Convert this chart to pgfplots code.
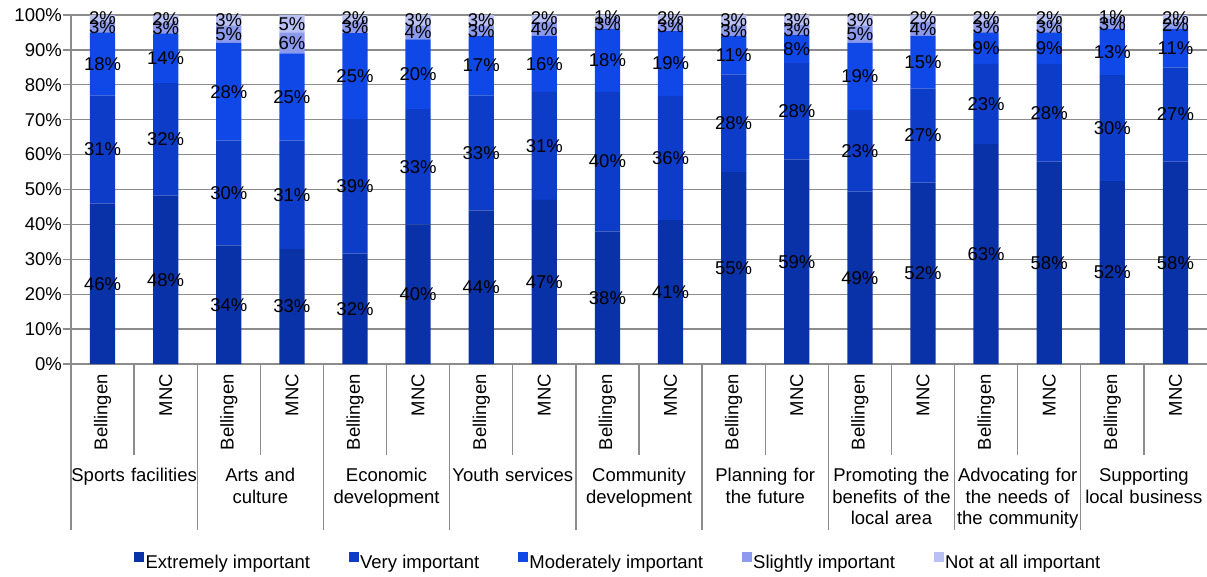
\documentclass[border=0pt]{standalone}
\usepackage{pgfplots}
\pgfplotsset{compat=1.18}
\usepackage{pgfplotstable}
\usepackage{fontspec}
\setmainfont{Liberation Sans}
\definecolor{cA}{HTML}{0A32A8}
\definecolor{cB}{HTML}{0C3CC8}
\definecolor{cC}{HTML}{1048E8}
\definecolor{cD}{HTML}{8C9AEE}
\definecolor{cE}{HTML}{B8C0F4}
\definecolor{gridc}{HTML}{8C8C8C}

\pgfplotstableread{
x a b c d e
0 46 31 18 3 2
1 48.3 32.2 14.2 3.2 2.1
2 34 30 28 5 3
3 33 31 25 6 5
4 31.6 38.6 24.6 3.2 2.0
5 40 33 20 4 3
6 44 33 17 3 3
7 47 31 16 4 2
8 38 40 18 3 1
9 41.2 35.6 18.6 2.8 1.8
10 55 28 11 3 3
11 58.6 27.6 8.2 2.8 2.8
12 49.4 23.4 19.2 5.0 3.0
13 52 27 15 4 2
14 63 23 9 3 2
15 58 28 9 3 2
16 52.4 30.4 13.2 3.0 1.0
17 58 27 11 2 2
}\data

\pgfplotsset{
  midlabel/.style={
    point meta=explicit,
    nodes near coords={\pgfmathprintnumber[fixed,precision=0]{\pgfplotspointmeta}\%},
    every node near coord/.append style={
      anchor=center, font=\fontsize{18.5}{21}\selectfont, text=black, inner sep=0pt
    },
  }
}

\begin{document}
\begin{tikzpicture}[font=\fontsize{18.5}{21.5}\selectfont]
\tikzset{cat/.style={anchor=north, text width=128pt, align=center, inner sep=0pt}}
\begin{axis}[
  at={(0,0)}, anchor=south west,
  width=1136pt, height=349pt, scale only axis,
  ybar stacked, bar width=0.4,
  clip=false,
  xmin=-0.5, xmax=17.5, ymin=0, ymax=100,
  axis lines=left,
  axis line style={-, draw=gridc, line width=1.3pt},
  ymajorgrids, grid style={gridc, line width=1.3pt},
  ytick={0,10,...,100},
  yticklabel={\pgfmathprintnumber{\tick}\%},
  /pgf/number format/assume math mode=true,
  tick align=outside,
  ytick style={draw=gridc, line width=1.3pt},
  major tick length=8pt,
  xtick={0,...,17},
  xtick style={draw=none},
  xticklabels={Bellingen,MNC,Bellingen,MNC,Bellingen,MNC,Bellingen,MNC,Bellingen,MNC,Bellingen,MNC,Bellingen,MNC,Bellingen,MNC,Bellingen,MNC},
  xticklabel style={rotate=90, anchor=east, font=\fontsize{18.5}{21}\selectfont, inner sep=2pt},
  yticklabel style={font=\fontsize{18.5}{21}\selectfont, inner sep=1pt},
  legend columns=5,
  legend style={draw=none, at={(0.4815,-0.567)}, anchor=center, font=\fontsize{18.5}{21}\selectfont,
    nodes={inner sep=1.5pt},
    /tikz/every even column/.append style={column sep=37pt}},
  legend image code/.code={\fill[#1] (0pt,0pt) rectangle (10pt,10pt);},
]
\addplot[fill=cA, draw=none, midlabel] table[x=x, y=a, meta=a]{\data};
\addlegendentry{Extremely important}
\addplot[fill=cB, draw=none, midlabel] table[x=x, y=b, meta=b]{\data};
\addlegendentry{Very important}
\addplot[fill=cC, draw=none, midlabel] table[x=x, y=c, meta=c]{\data};
\addlegendentry{Moderately important}
\addplot[fill=cD, draw=none, midlabel] table[x=x, y=d, meta=d]{\data};
\addlegendentry{Slightly important}
\addplot[fill=cE, draw=none, midlabel] table[x=x, y=e, meta=e]{\data};
\addlegendentry{Not at all important}

\pgfplotsinvokeforeach{0.5,2.5,4.5,6.5,8.5,10.5,12.5,14.5,16.5}{
  \draw[gridc, line width=1.3pt] (axis cs:#1,0) -- ++(0pt,-91pt);
}
\pgfplotsinvokeforeach{-0.5,1.5,3.5,5.5,7.5,9.5,11.5,13.5,15.5}{
  \draw[gridc, line width=1.3pt] (axis cs:#1,0) -- ++(0pt,-166pt);
}
\node[cat] at ([yshift=-104pt]axis cs:0.5,0) {Sports facilities};
\node[cat] at ([yshift=-104pt]axis cs:2.5,0) {Arts and\\culture};
\node[cat] at ([yshift=-104pt]axis cs:4.5,0) {Economic\\development};
\node[cat] at ([yshift=-104pt]axis cs:6.5,0) {Youth services};
\node[cat] at ([yshift=-104pt]axis cs:8.5,0) {Community\\development};
\node[cat] at ([yshift=-104pt]axis cs:10.5,0) {Planning for\\the future};
\node[cat] at ([yshift=-104pt]axis cs:12.5,0) {Promoting the\\benefits of the\\local area};
\node[cat] at ([yshift=-104pt]axis cs:14.5,0) {Advocating for\\the needs of\\the community};
\node[cat] at ([yshift=-104pt]axis cs:16.5,0) {Supporting\\local business};
\end{axis}
\pgfresetboundingbox
\path[use as bounding box] (-71pt,-212pt) rectangle (1136pt,364pt);
\end{tikzpicture}
\end{document}
